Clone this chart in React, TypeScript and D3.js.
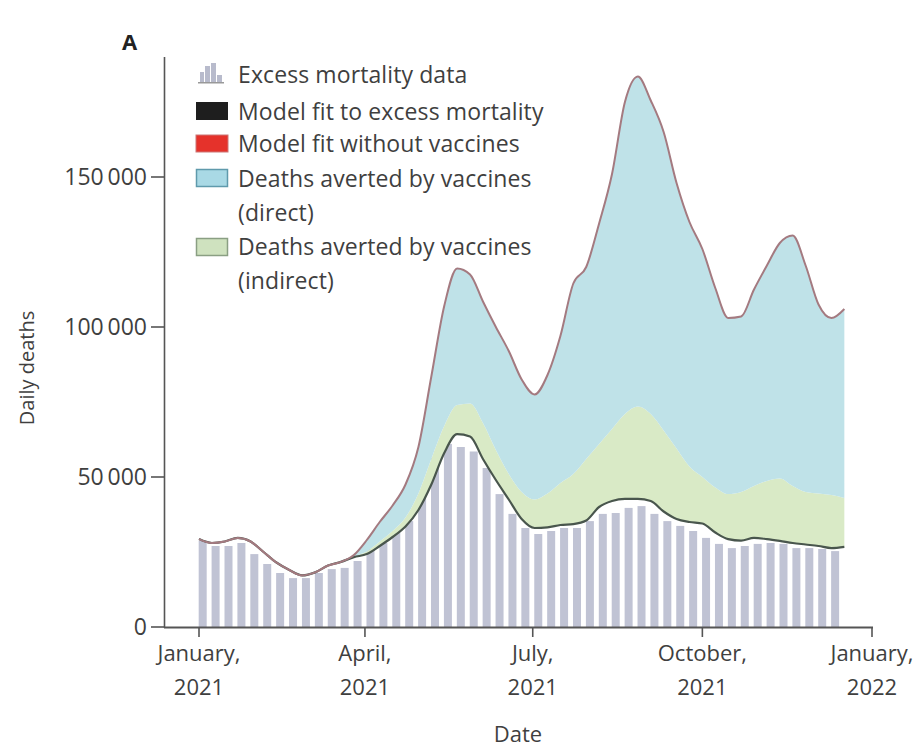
import React from "react";
import * as d3 from "d3";

// Weekly excess mortality observations (bars), weeks starting 3 Jan 2021
const barStart = "2021-01-03";
const excessMortality = [
  28700, 27000, 27000, 28000, 24300, 21000, 18000, 16300, 16300, 18000,
  19300, 19700, 22000, 26000, 28000, 32000, 35300, 44300, 56300, 61000,
  60000, 58500, 53000, 44300, 37700, 33000, 31000, 32000, 33000, 33000,
  35300, 37700, 38000, 39700, 40300, 37700, 35300, 33700, 32000, 29700,
  27700, 26300, 27000, 27700, 28000, 27700, 26300, 26300, 26000, 25300,
];

// Model series, weekly from 1 Jan 2021
const modelStart = "2021-01-01";
const modelFit = [
  29300, 28000, 28500, 29700, 28500, 25000, 21500, 19000, 17200, 18200,
  20500, 21700, 23300, 24300, 27000, 30000, 33500, 39000, 47500, 58000,
  64300, 63500, 56000, 49000, 42500, 36000, 33000, 33200, 34000, 34300,
  35500, 40000, 42000, 42700, 42700, 42000, 38500, 36000, 35000, 34500,
  31500, 29300, 28800, 29700, 29300, 28700, 28000, 27500, 27000, 26300,
  26700,
];
const avertedIndirect = [
  0, 0, 0, 0, 0, 0, 0, 0, 0, 0,
  0, 0, 200, 900, 1500, 2000, 3000, 5500, 8500, 9000,
  9700, 11000, 12000, 10000, 8500, 9000, 9500, 11300, 14000, 16700,
  20500, 21000, 24000, 28300, 30800, 29000, 27000, 23500, 18500, 15500,
  15000, 15000, 16200, 17300, 19400, 20800, 19000, 17500, 17500, 17700,
  16300,
];
const avertedDirect = [
  0, 0, 0, 0, 0, 0, 0, 0, 0, 0,
  0, 0, 500, 3800, 6500, 8500, 11000, 15500, 27500, 40000,
  45500, 43000, 40500, 41000, 41000, 37500, 35000, 39500, 49000, 63500,
  64000, 73500, 85000, 104000, 110000, 104500, 99500, 88500, 81500, 76000,
  66500, 58700, 58500, 65500, 71800, 78500, 83500, 75500, 63000, 59000,
  63000,
];

const yTicks = [0, 50000, 100000, 150000];
const xTickDates = ["2021-01-01", "2021-04-01", "2021-07-01", "2021-10-01", "2022-01-01"];
const xTickMonths = ["January,", "April,", "July,", "October,", "January,"];
const xTickYears = ["2021", "2021", "2021", "2021", "2022"];

const legendLabels = [
  ["Excess mortality data"],
  ["Model fit to excess mortality"],
  ["Model fit without vaccines"],
  ["Deaths averted by vaccines", "(direct)"],
  ["Deaths averted by vaccines", "(indirect)"],
];

const parse = d3.utcParse("%Y-%m-%d");
const FONT = "'Open Sans', sans-serif";
const TXT = "#3f3f3f";

export default function App() {
  const W = 919, H = 749;
  const x = d3.scaleUtc().domain([parse("2021-01-01")!, parse("2022-01-01")!]).range([199, 872]);
  const y = d3.scaleLinear().domain([0, 190000]).range([627, 57]);

  const barDates = excessMortality.map((_, i) => d3.utcDay.offset(parse(barStart)!, 7 * i));
  const modelDates = modelFit.map((_, i) => d3.utcDay.offset(parse(modelStart)!, 7 * i));

  const table = modelFit.map((f, i) => ({
    date: modelDates[i],
    fit: f,
    indirect: avertedIndirect[i],
    direct: avertedDirect[i],
  }));
  const stacked = d3.stack<any>().keys(["fit", "indirect", "direct"])(table);

  const curve = d3.curveMonotoneX;
  const area = d3.area<any>()
    .x((d) => x(d.data.date))
    .y0((d) => y(d[0]))
    .y1((d) => y(d[1]))
    .curve(curve);
  const topLine = d3.line<any>().x((d) => x(d.data.date)).y((d) => y(d[1])).curve(curve);

  const fmt = d3.formatLocale({ decimal: ".", thousands: "\u2009", grouping: [3], currency: ["", ""] }).format(",");

  const barW = 8;

  return (
    <svg width={W} height={H} style={{ display: "block", position: "absolute", left: 0, top: 0, background: "#fff" }}
      fontFamily={FONT}>
      {/* panel label */}
      <text x={122} y={50} fontSize={22} fontWeight={700} fill="#222">A</text>

      {/* bars */}
      {excessMortality.map((v, i) => (
        <rect key={i} x={x(barDates[i]) - barW / 2} y={y(v)} width={barW} height={y(0) - y(v)} fill="#c0c3d4" />
      ))}

      {/* areas */}
      <path d={area(stacked[1] as any) || ""} fill="#d9eac6" />
      <path d={area(stacked[2] as any) || ""} fill="#bfe2e8" />

      {/* lines */}
      <path d={topLine(stacked[0] as any) || ""} fill="none" stroke="#49564d" strokeWidth={2.2} />
      <path d={topLine(stacked[2] as any) || ""} fill="none" stroke="#a47a80" strokeWidth={2} />

      {/* y axis */}
      <line x1={164.5} x2={164.5} y1={57} y2={628} stroke="#555" strokeWidth={1.6} />
      {yTicks.map((t) => (
        <g key={t}>
          <line x1={151} x2={164.5} y1={y(t)} y2={y(t)} stroke="#555" strokeWidth={1.6} />
          <text x={147} y={y(t)} dy="0.35em" textAnchor="end" fontSize={23} fill={TXT}>{t === 0 ? "0" : fmt(t)}</text>
        </g>
      ))}
      <text transform={`translate(34,368) rotate(-90)`} textAnchor="middle" fontSize={20} fill={TXT}>Daily deaths</text>

      {/* x axis */}
      <line x1={164} x2={873} y1={627.5} y2={627.5} stroke="#555" strokeWidth={1.8} />
      {xTickDates.map((d, i) => {
        const px = x(parse(d)!);
        return (
          <g key={d}>
            <line x1={px} x2={px} y1={627.5} y2={637} stroke="#555" strokeWidth={1.6} />
            <text x={px} y={661} textAnchor="middle" fontSize={22} fill={TXT}>{xTickMonths[i]}</text>
            <text x={px} y={695} textAnchor="middle" fontSize={22} fill={TXT}>{xTickYears[i]}</text>
          </g>
        );
      })}
      <text x={518} y={742} textAnchor="middle" fontSize={22} fill={TXT}>Date</text>

      {/* legend */}
      <g>
        {/* bar icon */}
        <rect x={200} y={72} width={4} height={11} fill="#b8bbcc" />
        <rect x={205} y={66} width={5} height={17} fill="#b8bbcc" />
        <rect x={211} y={63} width={5} height={20} fill="#b8bbcc" />
        <rect x={217} y={75} width={5} height={8} fill="#b8bbcc" />
        <rect x={198} y={82} width={26} height={1.5} fill="#999" />
        <rect x={196} y={102} width={32} height={18} fill="#1e1e1e" />
        <rect x={196} y={135} width={32} height={17} fill="#e5322b" stroke="#c77" strokeWidth={1} />
        <rect x={196.5} y={169.5} width={31} height={17} fill="#a9d9e5" stroke="#5f9aac" strokeWidth={1.5} />
        <rect x={196.5} y={238.5} width={31} height={17} fill="#cfe2bf" stroke="#8a9f83" strokeWidth={1.5} />
        {[
          [83],
          [120],
          [152],
          [187, 221],
          [255, 289],
        ].map((ys, i) =>
          ys.map((yy, j) => (
            <text key={`${i}-${j}`} x={238} y={yy} fontSize={23} fill={TXT} letterSpacing={0.1}>
              {legendLabels[i][j]}
            </text>
          ))
        )}
      </g>
    </svg>
  );
}
